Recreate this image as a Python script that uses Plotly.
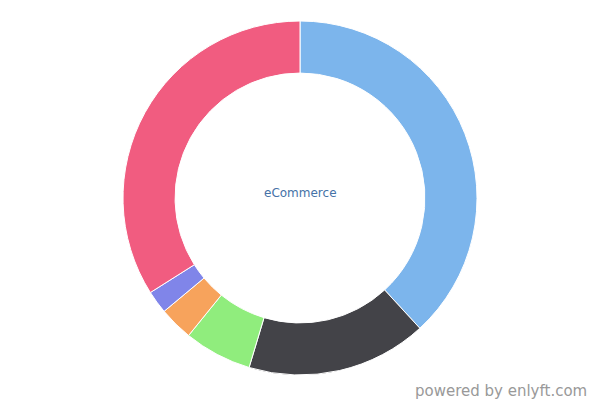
import plotly.graph_objects as go

labels = ["Segment A", "Segment B", "Segment C", "Segment D", "Segment E", "Segment F"]
values = [38.2, 16.5, 6.2, 3.1, 2.1, 34.0]
colors = ["#7cb5ec", "#434348", "#90ed7d", "#f7a35c", "#8085e9", "#f15c80"]
center_label = "eCommerce"
credit = "powered by enlyft.com"

fig = go.Figure(go.Pie(
    labels=labels,
    values=values,
    marker=dict(colors=colors, line=dict(color="#ffffff", width=1)),
    hole=0.706,
    sort=False,
    direction="clockwise",
    rotation=0,
    textinfo="none",
    showlegend=False,
))

fig.add_annotation(text=center_label, x=0.5, y=0.5, xref="paper", yref="paper",
                   showarrow=False, font=dict(family="DejaVu Sans", size=12, color="#4572a7"),
                   yshift=5)
fig.add_annotation(text=credit, x=1, y=-0.045, xref="paper", yref="paper",
                   xanchor="right", yanchor="middle", showarrow=False,
                   xshift=-11,
                   font=dict(family="DejaVu Sans", size=15, color="#999999"))

fig.update_layout(
    width=600, height=400,
    margin=dict(l=0, r=0, t=21, b=25),
    paper_bgcolor="#ffffff",
    plot_bgcolor="#ffffff",
)

fig.write_html("out.html", config={"displayModeBar": False},
               post_script="document.body.style.margin='0';document.body.style.overflow='hidden';")
